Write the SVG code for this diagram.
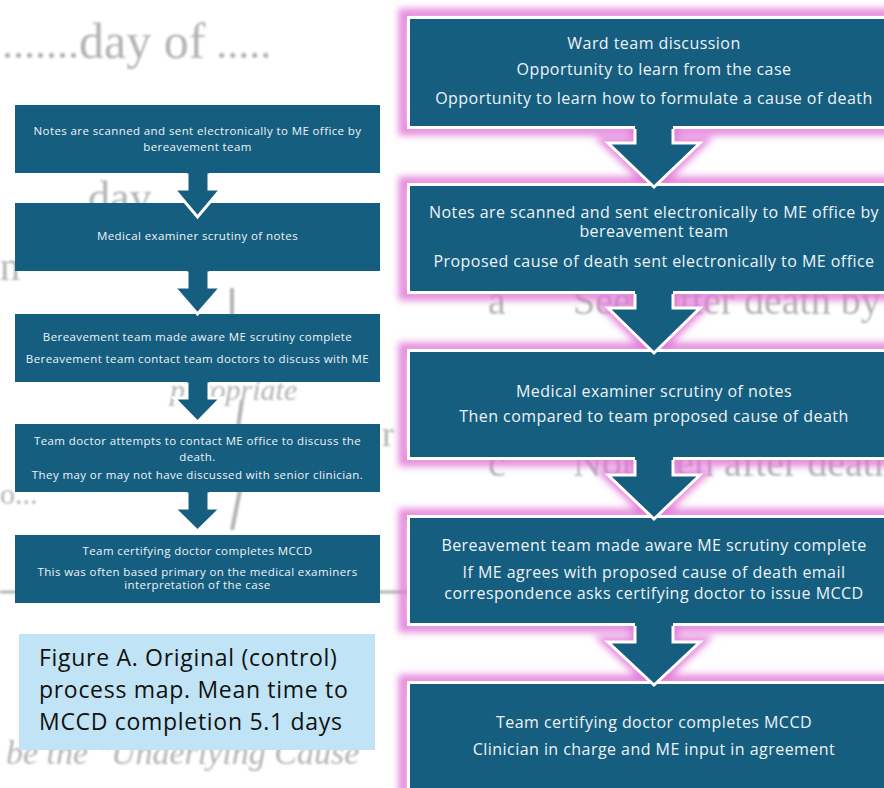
<svg xmlns="http://www.w3.org/2000/svg" width="884" height="788" viewBox="0 0 884 788">
<defs>
<filter id="soft" x="-10%" y="-10%" width="120%" height="120%"><feGaussianBlur stdDeviation="1.2"/></filter>
<filter id="glow" x="-20%" y="-20%" width="140%" height="140%"><feGaussianBlur stdDeviation="3.5"/></filter>
<style>
.bg{font-family:"Liberation Serif","DejaVu Serif",serif;fill:#9a9a9a}
.box{fill:#165e7f}
.rbox{fill:#165e7f;stroke:#ffffff;stroke-width:3}
.arr{fill:#165e7f}
.arrline{fill:none;stroke:#ffffff;stroke-width:3;stroke-linejoin:miter}
.glowshape{fill:none;stroke:#e070d6;stroke-width:11;stroke-opacity:0.8}
.lt{font-family:"Open Sans","Noto Sans",sans-serif;font-size:11.5px;letter-spacing:0.4px;fill:#eef3f6;text-anchor:middle}
.rt{font-family:"Open Sans","Noto Sans",sans-serif;font-size:16px;letter-spacing:0.45px;fill:#eef3f6;text-anchor:middle}
.cap{font-family:"Open Sans","Noto Sans",sans-serif;font-size:23px;letter-spacing:0.7px;fill:#111111}
</style>
</defs>
<rect width="884" height="788" fill="#ffffff"/>
<g id="background-scan" filter="url(#soft)" opacity="0.75">
<text class="bg" x="2" y="58" font-size="44">.......<tspan font-size="50">day of</tspan> .....</text>
<text class="bg" x="88" y="212" font-size="44">day</text>
<text class="bg" x="0" y="280" font-size="40">n</text>
<text class="bg" x="0" y="504" font-size="30">o...</text>
<text class="bg" x="488" y="314" font-size="40">a</text>
<text class="bg" x="573" y="314" font-size="40">Seen after death by</text>
<text class="bg" x="488" y="476" font-size="40">c</text>
<text class="bg" x="573" y="476" font-size="40">Not seen after death</text>
<text class="bg" x="170" y="400" font-size="30" font-style="italic">ppropriate</text>
<text class="bg" x="382" y="446" font-size="36">r</text>
<text class="bg" x="6" y="764" font-size="34" font-style="italic">be the "Underlying Cause</text>
<line x1="0" y1="592" x2="410" y2="592" stroke="#9a9a9a" stroke-width="3"/>
<path d="M232 288 L232 360 M242 400 L232 470 M240 490 L232 530" stroke="#9a9a9a" stroke-width="4" fill="none"/>
</g>

<g id="glow-layer" filter="url(#glow)">
<rect class="glowshape" x="404" y="14" width="500" height="116"/>
<rect class="glowshape" x="404" y="182" width="500" height="113"/>
<rect class="glowshape" x="404" y="348" width="500" height="113"/>
<rect class="glowshape" x="404" y="514" width="500" height="113"/>
<rect class="glowshape" x="404" y="680" width="500" height="130"/>
<polygon class="glowshape" points="635,128 635,143 608,143 654,187 700,143 673,143 673,128"/>
<polygon class="glowshape" points="635,293 635,308 608,308 654,353 700,308 673,308 673,293"/>
<polygon class="glowshape" points="635,459 635,475 608,475 654,519 700,475 673,475 673,459"/>
<polygon class="glowshape" points="635,625 635,642 608,642 654,685 700,642 673,642 673,625"/>
</g>

<g id="L1"><rect class="box" x="15" y="105" width="365" height="68"/>
<text class="lt" x="197.5" y="135">Notes are scanned and sent electronically to ME office by</text>
<text class="lt" x="197.5" y="151">bereavement team</text></g>
<g id="L2"><rect class="box" x="15" y="203" width="365" height="68"/>
<text class="lt" x="197.5" y="240">Medical examiner scrutiny of notes</text></g>
<g id="L3"><rect class="box" x="15" y="314" width="365" height="68"/>
<text class="lt" x="197.5" y="341">Bereavement team made aware ME scrutiny complete</text>
<text class="lt" x="197.5" y="363">Bereavement team contact team doctors to discuss with ME</text></g>
<g id="L4"><rect class="box" x="15" y="424" width="365" height="68"/>
<text class="lt" x="197.5" y="445">Team doctor attempts to contact ME office to discuss the</text>
<text class="lt" x="197.5" y="461">death.</text>
<text class="lt" x="197.5" y="479">They may or may not have discussed with senior clinician.</text></g>
<g id="L5"><rect class="box" x="15" y="535" width="365" height="68"/>
<text class="lt" x="197.5" y="555">Team certifying doctor completes MCCD</text>
<text class="lt" x="197.5" y="576">This was often based primary on the medical examiners</text>
<text class="lt" x="197.5" y="589">interpretation of the case</text></g>

<g id="caption"><rect x="19" y="634" width="356" height="116" fill="#c0e4f5"/>
<text class="cap" x="39" y="666">Figure A. Original (control)</text>
<text class="cap" x="39" y="698">process map. Mean time to</text>
<text class="cap" x="39" y="730">MCCD completion 5.1 days</text></g>

<g id="R1"><rect class="rbox" x="408.5" y="17.5" width="500" height="110"/>
<text class="rt" x="654" y="49">Ward team discussion</text>
<text class="rt" x="654" y="75">Opportunity to learn from the case</text>
<text class="rt" x="654" y="104">Opportunity to learn how to formulate a cause of death</text></g>
<g id="R2"><rect class="rbox" x="408.5" y="184.5" width="500" height="108"/>
<text class="rt" x="654" y="218">Notes are scanned and sent electronically to ME office by</text>
<text class="rt" x="654" y="237">bereavement team</text>
<text class="rt" x="654" y="267">Proposed cause of death sent electronically to ME office</text></g>
<g id="R3"><rect class="rbox" x="408.5" y="350.5" width="500" height="108"/>
<text class="rt" x="654" y="397">Medical examiner scrutiny of notes</text>
<text class="rt" x="654" y="422">Then compared to team proposed cause of death</text></g>
<g id="R4"><rect class="rbox" x="408.5" y="516.5" width="500" height="108"/>
<text class="rt" x="654" y="551">Bereavement team made aware ME scrutiny complete</text>
<text class="rt" x="654" y="578">If ME agrees with proposed cause of death email</text>
<text class="rt" x="654" y="599">correspondence asks certifying doctor to issue MCCD</text></g>
<g id="R5"><rect class="rbox" x="408.5" y="682.5" width="500" height="130"/>
<text class="rt" x="654" y="728">Team certifying doctor completes MCCD</text>
<text class="rt" x="654" y="755">Clinician in charge and ME input in agreement</text></g>

<g id="connectors">
<polygon class="arr" points="187,172 187,189 174,189 197.5,217 221,189 209,189 209,172"/>
<polyline class="arrline" points="187,173.5 187,189 174,189 197.5,217 221,189 209,189 209,173.5"/>
<polygon class="arr" points="187,270 187,287 174,287 197.5,314 221,287 209,287 209,270"/>
<polyline class="arrline" points="187,271.5 187,287 174,287 197.5,314 221,287 209,287 209,271.5"/>
<polygon class="arr" points="187,381 187,398 174,398 197.5,422 221,398 209,398 209,381"/>
<polyline class="arrline" points="187,382.5 187,398 174,398 197.5,422 221,398 209,398 209,382.5"/>
<polygon class="arr" points="187,491 187,508 174,508 197.5,531 221,508 209,508 209,491"/>
<polyline class="arrline" points="187,492.5 187,508 174,508 197.5,531 221,508 209,508 209,492.5"/>

<polygon class="arr" points="635,124 635,143 608,143 654,187 700,143 673,143 673,124"/>
<polyline class="arrline" points="635,129 635,143 608,143 654,187 700,143 673,143 673,129"/>
<polygon class="arr" points="635,290 635,308 608,308 654,353 700,308 673,308 673,290"/>
<polyline class="arrline" points="635,294 635,308 608,308 654,353 700,308 673,308 673,294"/>
<polygon class="arr" points="635,456 635,475 608,475 654,519 700,475 673,475 673,456"/>
<polyline class="arrline" points="635,460 635,475 608,475 654,519 700,475 673,475 673,460"/>
<polygon class="arr" points="635,622 635,642 608,642 654,685 700,642 673,642 673,622"/>
<polyline class="arrline" points="635,626 635,642 608,642 654,685 700,642 673,642 673,626"/>
</g>
</svg>
